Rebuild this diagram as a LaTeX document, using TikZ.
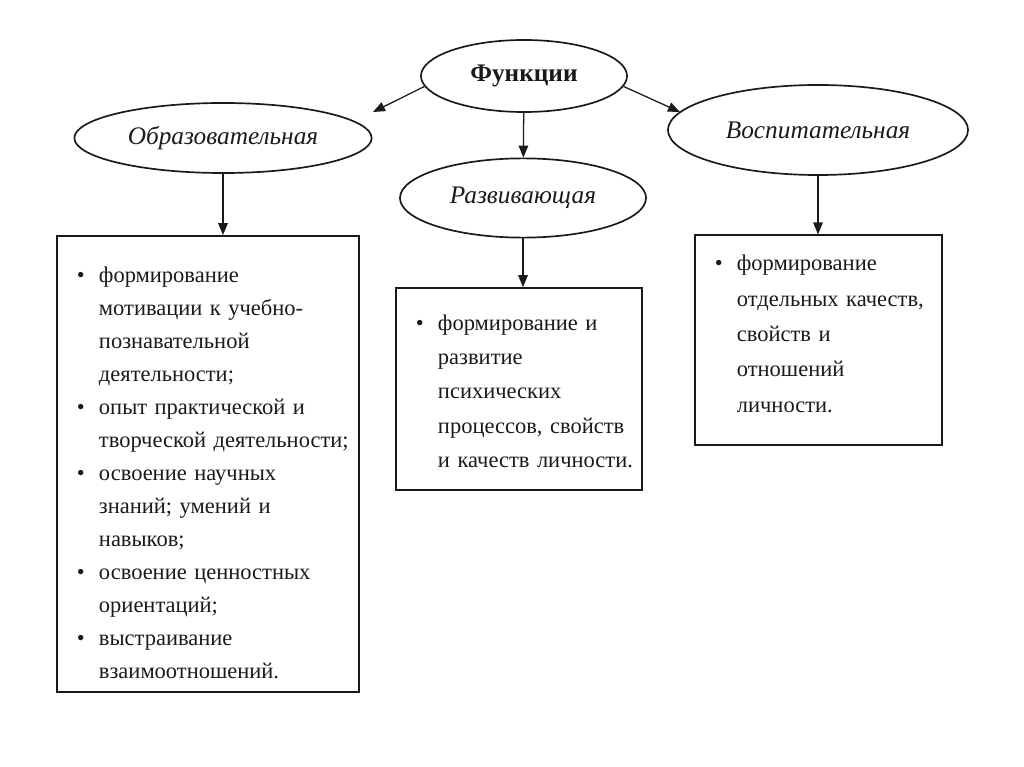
\documentclass[tikz,border=0pt]{standalone}
\usepackage{fontspec}
\setmainfont{Liberation Serif}
\usetikzlibrary{arrows.meta,shapes.geometric}
\definecolor{cInk}{HTML}{1A1A1A}
\newenvironment{fitems}{\begin{list}{\textbullet}{%
    \setlength\leftmargin{8.5mm}\setlength\labelwidth{5.5mm}%
    \setlength\labelsep{0pt}\setlength\itemsep{0pt}\setlength\parsep{0pt}%
    \setlength\topsep{0pt}\setlength\partopsep{0pt}%
    \renewcommand\makelabel[1]{##1\hfil}}}{\end{list}}
\tikzset{
  func/.style={draw=cInk, ellipse, line width=1.2pt, inner sep=0pt, text=cInk},
  root/.style={func, font=\fontsize{18}{20}\selectfont\bfseries},
  kind/.style={func, font=\fontsize{18}{20}\selectfont\itshape},
  tbox/.style={draw=cInk, line width=1.2pt, inner xsep=2mm, inner ysep=0pt,
    align=left, text=cInk, font=\fontsize{16}{23.5}\selectfont},
  flow/.style={-{Triangle[length=3mm, width=2.4mm]}, line width=0.9pt, draw=cInk},
}
\begin{document}
\begin{tikzpicture}[x=0.025cm, y=-0.025cm]
  \useasboundingbox (0,0) rectangle (1024,767);
  % --- ellipses ---
  \node[root, minimum width=5.15cm, minimum height=1.8cm] (f) at (524,76) {Функции};
  \node[kind, minimum width=7.43cm, minimum height=1.75cm] (o) at (223,138) {Образовательная};
  \node[kind, minimum width=6.15cm, minimum height=1.98cm] (r) at (523,198) {Развивающая};
  \node[kind, minimum width=7.5cm, minimum height=2.25cm] (v) at (818,130) {Воспитательная};
  % --- boxes ---
  \node[tbox, text width=7.15cm, minimum height=11.4cm] (ob) at (208,464) {%
    \begin{fitems}
      \item формирование\\ мотивации к учебно-\\ познавательной\\ деятельности;
      \item опыт практической и\\ творческой деятельности;
      \item освоение научных\\ знаний; умений и\\ навыков;
      \item освоение ценностных\\ ориентаций;
      \item выстраивание\\ взаимоотношений.
    \end{fitems}};
  \node[tbox, text width=5.75cm, minimum height=5.05cm,
    font=\fontsize{16}{24.4}\selectfont] (rb) at (519,389) {%
    \begin{fitems}
      \item формирование и\\ развитие\\ психических\\ процессов, свойств\\ и качеств личности.
    \end{fitems}\par\vspace{0.35cm}};
  \node[tbox, text width=5.78cm, minimum height=5.15cm,
    font=\fontsize{16}{25.2}\selectfont] (vb) at (818.5,340) {%
    \begin{fitems}
      \item формирование\\ отдельных качеств,\\ свойств и\\ отношений\\ личности.
    \end{fitems}\par\vspace{0.8cm}};
  % --- arrows ---
  \coordinate (oTip) at (373,112);
  \coordinate (vTip) at (680,112);
  \draw[flow] (f.186) -- (oTip);
  \draw[flow] (f.354) -- (vTip);
  \draw[flow] (f) -- (r);
  \draw[flow] (o) -- (o |- ob.north);
  \draw[flow] (r) -- (r |- rb.north);
  \draw[flow] (v) -- (v |- vb.north);
\end{tikzpicture}
\end{document}
